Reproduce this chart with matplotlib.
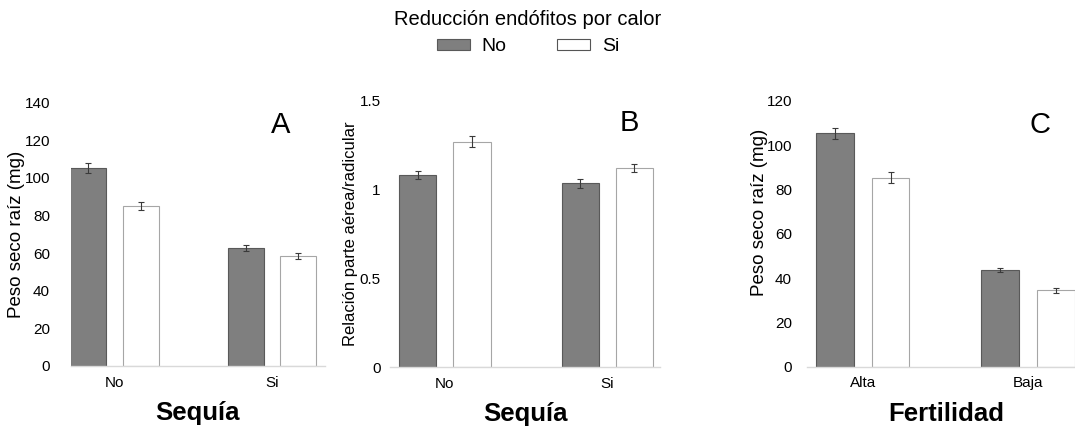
import matplotlib
matplotlib.use("Agg")
import matplotlib.pyplot as plt
from matplotlib.patches import Patch
import numpy as np

plt.rcParams['font.family'] = ['Liberation Sans', 'DejaVu Sans']

# data
series = ['No', 'Si']
cats_ab = ['No', 'Si']
cats_c = ['Alta', 'Baja']

peso_sequia_no = [105.2, 62.7]
peso_sequia_si = [85.1, 58.3]
peso_sequia_no_err = [2.6, 1.7]
peso_sequia_si_err = [2.2, 1.6]

rel_sequia_no = [1.082, 1.035]
rel_sequia_si = [1.270, 1.120]
rel_sequia_no_err = [0.022, 0.026]
rel_sequia_si_err = [0.030, 0.022]

peso_fert_no = [105.3, 43.6]
peso_fert_si = [85.3, 34.4]
peso_fert_no_err = [2.4, 0.8]
peso_fert_si_err = [2.4, 1.1]

dark = '#7f7f7f'
dark_edge = '#595959'
light_edge = '#a6a6a6'
err_kw = dict(ecolor='#3a3a3a', elinewidth=0.8, capsize=2, capthick=0.8)

fig = plt.figure(figsize=(10.75, 4.32), dpi=100)

panels = [
    dict(rect=[0.066, 0.153, 0.236, 0.609], cats=cats_ab,
         no=peso_sequia_no, si=peso_sequia_si, no_err=peso_sequia_no_err, si_err=peso_sequia_si_err,
         ylim=(0, 140), yticks=np.arange(0, 141, 20), ytl=None, xlim=(-0.278, 1.335),
         letter='A', lpos=(1.056, 128), xlabel='Sequía', ylabel='Peso seco raíz (mg)',
         ylsize=13.5, ypad=15, ylc=(-0.18, 0.5)),
    dict(rect=[0.363, 0.150, 0.251, 0.617], cats=cats_ab,
         no=rel_sequia_no, si=rel_sequia_si, no_err=rel_sequia_no_err, si_err=rel_sequia_si_err,
         ylim=(0, 1.5), yticks=[0, 0.5, 1, 1.5], ytl=['0', '0.5', '1', '1.5'], xlim=(-0.337, 1.325),
         letter='B', lpos=(1.134, 1.375), xlabel='Sequía', ylabel='Relación parte aérea/radicular',
         ylsize=12, ypad=7, ylc=(-0.119, 0.5)),
    dict(rect=[0.751, 0.151, 0.259, 0.616], cats=cats_c,
         no=peso_fert_no, si=peso_fert_si, no_err=peso_fert_no_err, si_err=peso_fert_si_err,
         ylim=(0, 120), yticks=np.arange(0, 121, 20), ytl=None, xlim=(-0.337, 1.35),
         letter='C', lpos=(1.071, 109), xlabel='Fertilidad', ylabel='Peso seco raíz (mg)',
         ylsize=13.5, ypad=11, ylc=(-0.143, 0.58)),
]

off = 0.167
w = 0.23
for p in panels:
    ax = fig.add_axes(p['rect'])
    x = np.arange(len(p['cats']))
    ax.bar(x - off, p['no'], w, color=dark, edgecolor=dark_edge, linewidth=0.8,
           yerr=p['no_err'], error_kw=err_kw, zorder=2)
    ax.bar(x + off, p['si'], w, color='white', edgecolor=light_edge, linewidth=0.8,
           yerr=p['si_err'], error_kw=err_kw, zorder=2)
    ax.set_xlim(*p['xlim'])
    ax.set_ylim(*p['ylim'])
    ax.set_yticks(p['yticks'])
    if p['ytl'] is not None:
        ax.set_yticklabels(p['ytl'])
    ax.set_xticks(x)
    ax.set_xticklabels(p['cats'])
    ax.tick_params(axis='x', length=0, pad=7, labelsize=11)
    ax.tick_params(axis='y', length=0, pad=p['ypad'], labelsize=11)
    for s in ['top', 'right', 'left']:
        ax.spines[s].set_visible(False)
    ax.spines['bottom'].set_color('#d9d9d9')
    ax.spines['bottom'].set_linewidth(1)
    ax.set_xlabel(p['xlabel'], fontsize=18.5, fontweight='bold', labelpad=8)
    ax.set_ylabel(p['ylabel'], fontsize=p['ylsize'])
    ax.yaxis.set_label_coords(*p['ylc'])
    ax.text(p['lpos'][0], p['lpos'][1], p['letter'], fontsize=21, ha='center', va='center')
    ax.set_facecolor('none')

handles = [Patch(facecolor=dark, edgecolor=dark_edge, linewidth=0.8),
           Patch(facecolor='white', edgecolor='#555555', linewidth=0.8)]
fig.legend(handles, series, title='Reducción endófitos por calor', ncol=2, frameon=False,
           loc='upper center', bbox_to_anchor=(0.491, 1.018), fontsize=14, title_fontsize=14.5,
           handlelength=1.7, handleheight=0.45, columnspacing=2.6, handletextpad=0.6)

fig.savefig('out.png', dpi=100)
